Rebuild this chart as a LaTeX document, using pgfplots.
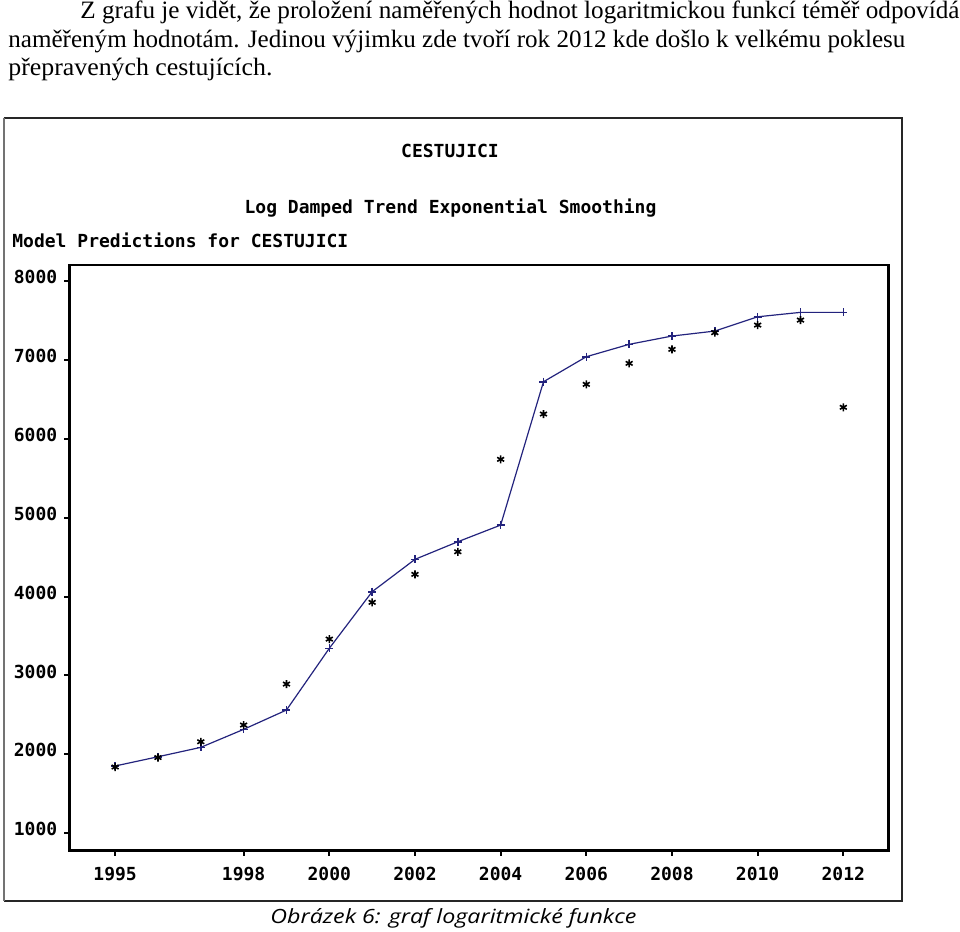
\documentclass[border=0pt]{standalone}
\usepackage{fontspec}
\setmainfont{Liberation Serif}
\newfontfamily\sasfont{DejaVu Sans Mono}
\newfontfamily\capfont{Open Sans}
\usepackage{graphicx}
\usepackage{pgfplots}
\usepackage{pgfplotstable}
\pgfplotsset{compat=1.18}
\definecolor{navyline}{RGB}{35,35,125}

\pgfplotstableread{
year pred
1995 1853
1996 1970
1997 2089
1998 2317
1999 2562
2000 3344
2001 4061
2002 4471
2003 4694
2004 4905
2005 6721
2006 7038
2007 7195
2008 7300
2009 7363
2010 7544
2011 7600
2012 7600
}\predtable

\pgfplotstableread{
year actual
1995 1840
1996 1960
1997 2160
1998 2372
1999 2891
2000 3461
2001 3926
2002 4281
2003 4567
2004 5738
2005 6312
2006 6688
2007 6954
2008 7131
2009 7342
2010 7439
2011 7502
2012 6397
}\actualtable

\begin{document}
\begin{tikzpicture}
\path[use as bounding box] (0pt,0pt) rectangle (480pt,466pt);
% paragraph text
\node[anchor=base west, inner sep=0pt] at (40pt,456.5pt) {\resizebox{439.5pt}{\height}{\fontsize{12.5pt}{14pt}\selectfont Z grafu je vidět, že proložení naměřených hodnot logaritmickou funkcí téměř odpovídá}};
\node[anchor=base west, inner sep=0pt] at (4pt,442.25pt) {\resizebox{448.5pt}{\height}{\fontsize{12.5pt}{14pt}\selectfont naměřeným hodnotám. Jedinou výjimku zde tvoří rok 2012 kde došlo k velkému poklesu}};
\node[anchor=base west, inner sep=0pt] at (4pt,428pt) {\resizebox{132pt}{\height}{\fontsize{12.5pt}{14pt}\selectfont přepravených cestujících.}};
% frame
\draw[line width=1pt, black!85] (1.75pt,407pt) -- (450.85pt,407pt) -- (450.85pt,15.5pt) -- (1.75pt,15.5pt);
\draw[line width=1pt, black!55] (1.75pt,15.5pt) -- (1.75pt,407pt);
% titles
\node[anchor=base, inner sep=0pt, font=\sasfont\bfseries\fontsize{9pt}{10pt}\selectfont] at (225pt,387pt) {CESTUJICI};
\node[anchor=base, inner sep=0pt, font=\sasfont\bfseries\fontsize{9pt}{10pt}\selectfont] at (225.25pt,359pt) {Log Damped Trend Exponential Smoothing};
\node[anchor=base west, inner sep=0pt, font=\sasfont\bfseries\fontsize{9pt}{10pt}\selectfont] at (6pt,342pt) {Model Predictions for CESTUJICI};
% caption
\node[anchor=base west, inner sep=0pt] at (135pt,4pt) {\resizebox{183pt}{\height}{\capfont\itshape\fontsize{9.8pt}{11pt}\selectfont Obrázek 6: graf logaritmické funkce}};

\begin{axis}[
  at={(34.65pt,40.65pt)}, anchor=south west,
  scale only axis, width=409.5pt, height=292.85pt,
  xmin=1993.93, xmax=2013.05, ymin=780, ymax=8200,
  xtick={1995,1998,2000,2002,2004,2006,2008,2010,2012},
  ytick={1000,2000,3000,4000,5000,6000,7000,8000},
  tick align=outside, xtick pos=left, ytick pos=left,
  major tick length=2.5pt,
  every tick/.style={black, line width=1pt},
  axis line style={line width=1.2pt},
  /pgf/number format/assume math mode=true,
  /pgf/number format/1000 sep={},
  xticklabel style={font=\sasfont\bfseries\fontsize{9pt}{10pt}\selectfont, yshift=-2pt},
  yticklabel style={font=\sasfont\bfseries\fontsize{9pt}{10pt}\selectfont, yshift=2pt},
]
\addplot[navyline, line width=0.6pt, mark=+, mark size=2pt, mark options={line width=0.8pt}] table[x=year, y=pred] {\predtable};
\addplot[black, only marks, mark=asterisk, mark size=2pt, mark options={line width=0.8pt}] table[x=year, y=actual] {\actualtable};
\end{axis}
\end{tikzpicture}
\end{document}
